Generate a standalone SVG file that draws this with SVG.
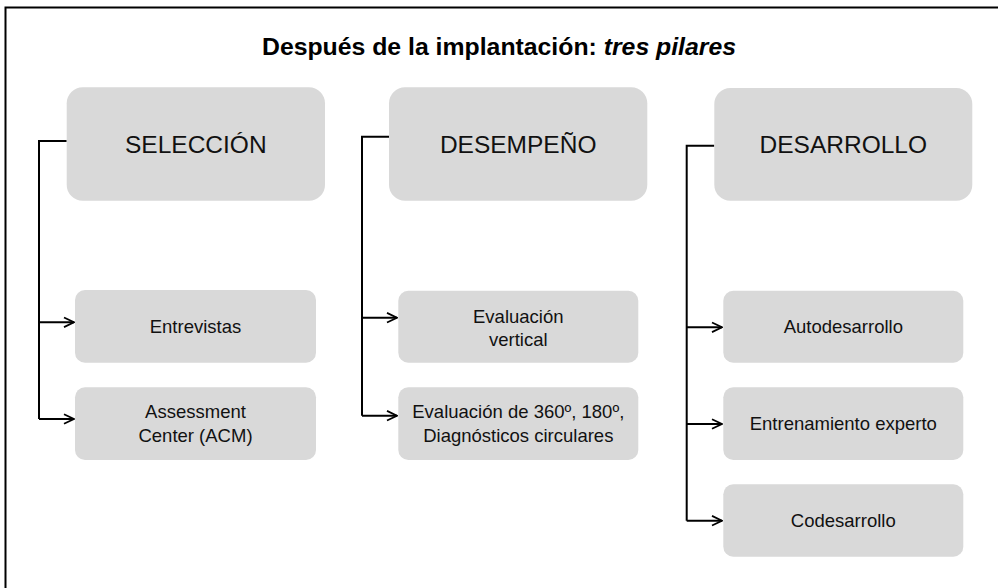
<svg xmlns="http://www.w3.org/2000/svg" width="998" height="588" viewBox="0 0 998 588">
<style>
.frame{fill:none;stroke:#000;stroke-width:2}
.box{fill:#d9d9d9}
.big{font-family:"Liberation Sans",Arial,sans-serif;font-size:24.5px;fill:#111;text-anchor:middle}
.sm{font-family:"Liberation Sans",Arial,sans-serif;font-size:18.5px;fill:#111;text-anchor:middle}
.title{font-family:"Liberation Sans",Arial,sans-serif;font-size:24.8px;font-weight:bold;fill:#000;text-anchor:middle}
.conn{fill:none;stroke:#000;stroke-width:2}
.arr{fill:none;stroke:#000;stroke-width:2;marker-end:url(#ah)}
</style>
<defs>
<marker id="ah" viewBox="0 0 12 12" refX="11" refY="6" markerWidth="12" markerHeight="12" markerUnits="userSpaceOnUse" orient="auto">
<path d="M1,1.2 L11,6 L1,10.8" fill="none" stroke="#000" stroke-width="1.8"/>
</marker>
</defs>
<rect width="998" height="588" fill="#fff"/>
<rect class="frame" x="5.5" y="7.5" width="1010" height="600"/>
<text class="title" x="499" y="55">Después de la implantación: <tspan font-style="italic">tres pilares</tspan></text>

<g id="connectors">
<polyline class="conn" points="66.7,141 39,141 39,419"/>
<line class="arr" x1="39" y1="322.3" x2="74" y2="322.3"/>
<line class="arr" x1="39" y1="419" x2="74" y2="419"/>
<polyline class="conn" points="389,136.7 362,136.7 362,415.7"/>
<line class="arr" x1="362" y1="317.7" x2="397" y2="317.7"/>
<line class="arr" x1="362" y1="415.7" x2="397" y2="415.7"/>
<polyline class="conn" points="714.3,145.7 686.7,145.7 686.7,520.7"/>
<line class="arr" x1="686.7" y1="327.3" x2="722" y2="327.3"/>
<line class="arr" x1="686.7" y1="424" x2="722" y2="424"/>
<line class="arr" x1="686.7" y1="520.7" x2="722" y2="520.7"/>
</g>

<g id="seleccion"><rect class="box" x="66.7" y="87.3" width="258.3" height="113.4" rx="16"/><text class="big" x="195.8" y="153">SELECCIÓN</text></g>
<g id="desempeno"><rect class="box" x="389" y="87.3" width="258.3" height="113.4" rx="16"/><text class="big" x="518.2" y="153">DESEMPEÑO</text></g>
<g id="desarrollo"><rect class="box" x="714.3" y="88" width="258" height="112.7" rx="16"/><text class="big" x="843.3" y="153">DESARROLLO</text></g>

<g id="entrevistas"><rect class="box" x="75" y="290" width="241" height="72.7" rx="10"/><text class="sm" x="195.5" y="333">Entrevistas</text></g>
<g id="assessment"><rect class="box" x="75" y="387.3" width="241" height="72.7" rx="10"/><text class="sm" x="195.5" y="418.3">Assessment</text><text class="sm" x="195.5" y="441.7">Center (ACM)</text></g>

<g id="eval-vertical"><rect class="box" x="398.3" y="290.7" width="240" height="72" rx="10"/><text class="sm" x="518.3" y="323.3">Evaluación</text><text class="sm" x="518.3" y="346">vertical</text></g>
<g id="eval-360"><rect class="box" x="398.3" y="387.3" width="240" height="72.7" rx="10"/><text class="sm" x="518.3" y="418.3">Evaluación de 360º, 180º,</text><text class="sm" x="518.3" y="441.7">Diagnósticos circulares</text></g>

<g id="autodesarrollo"><rect class="box" x="723.3" y="290.7" width="240" height="72" rx="10"/><text class="sm" x="843.3" y="333">Autodesarrollo</text></g>
<g id="entrenamiento"><rect class="box" x="723.3" y="387.3" width="240" height="72.7" rx="10"/><text class="sm" x="843.3" y="430">Entrenamiento experto</text></g>
<g id="codesarrollo"><rect class="box" x="723.3" y="484.3" width="240" height="72.4" rx="10"/><text class="sm" x="843.3" y="526.7">Codesarrollo</text></g>
</svg>
